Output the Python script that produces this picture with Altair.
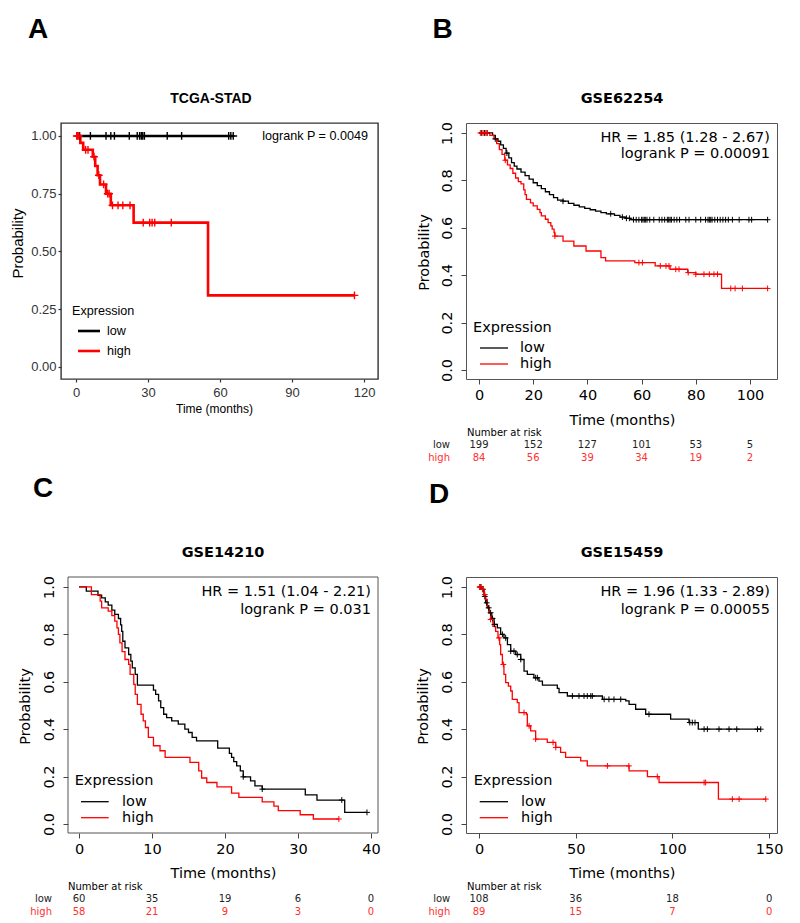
import altair as alt
import pandas as pd

# ---------------- data ----------------
GROUPS = ["low", "high"]

# A: TCGA-STAD
a_low_t = [0, 65.5]
a_low_s = [1.0, 1.0]
a_low_cens = [1.5, 6, 12.5, 14.5, 16, 22.2, 25.5, 26.5, 27.2, 27.8, 28.5, 38, 44, 63.6, 64.5, 65.5]
a_high_t = [0, 1.8, 3.0, 7.0, 8.0, 9.0, 10.0, 12.5, 14.5, 24.0, 55.0, 116.0]
a_high_s = [1.0, 0.97, 0.94, 0.91, 0.87, 0.83, 0.79, 0.75, 0.70, 0.625, 0.31, 0.31]
a_high_cens = [0.3, 0.7, 1.2, 4.0, 5.0, 7.5, 9.5, 11.5, 13.2, 13.8, 15.2, 17.5, 19.5, 22.5,
               28, 30.7, 31.7, 32.8, 39.7, 116]

# B: GSE62254
b_low_t = [0, 5, 6, 7, 8, 9, 10, 11, 12, 13, 14, 15.5, 17, 18.5, 20, 21.5, 23, 24.5, 26, 27.5,
           29, 31, 33, 35, 37, 39, 41, 43, 45, 47, 50, 52, 54, 56, 106.5]
b_low_s = [1, .99, .975, .965, .95, .935, .915, .895, .875, .86, .848, .835, .82, .805, .79, .778,
           .765, .752, .74, .727, .717, .712, .703, .695, .688, .682, .676, .67, .664, .659, .652,
           .645, .64, .634, .634]
b_low_cens = [1.0, 2.0, 3.0, 6.0, 10.3, 31, 48.6, 52.9, 54.4, 55.5, 57, 58, 59, 60, 60.5, 61, 61.5,
              62, 63, 64.5, 66.5, 67.5, 68.5, 69.5, 70, 70.5, 71, 72, 73, 74, 76.3, 77.5, 80, 81.8,
              83.6, 84.5, 85, 85.5, 86, 87, 88, 89, 90, 91, 92, 93.5, 96, 99.6, 100.6, 106.5]
b_high_t = [0, 4, 5.5, 6.5, 7.5, 8.5, 9.5, 10.5, 11.5, 12.5, 13.5, 14.5, 15.5, 16.5, 17, 17.5, 19,
            20, 21.5, 22.5, 23, 24.5, 25.5, 26.5, 27, 27.7, 28, 31, 35, 39.5, 45, 46.7, 57.5, 65,
            70.5, 77, 80, 89.5, 106.5]
b_high_s = [1, .99, .975, .955, .93, .91, .885, .865, .85, .83, .81, .795, .785, .76, .74, .72,
            .705, .692, .678, .664, .65, .636, .622, .608, .594, .58, .565, .544, .523, .502, .474,
            .46, .453, .439, .425, .411, .404, .344, .344]
b_high_cens = [0.5, 1.5, 2.5, 3.0, 9.7, 28, 59, 60.3, 66.9, 69, 70.1, 72.6, 73.8, 77.2, 80, 83, 85,
               86.7, 88, 92.9, 94.5, 97.2, 106.5]

# C: GSE14210
c_low_t = [0, 1.0, 2.6, 3.1, 3.6, 4.0, 4.5, 4.9, 5.4, 5.7, 5.85, 6.0, 6.3, 6.8, 7.1, 7.3, 7.7, 8.0,
           10.2, 10.5, 10.9, 11.2, 11.6, 12.0, 12.7, 13.6, 14.5, 15.0, 15.5, 16.1, 19.0, 20.6,
           20.9, 21.2, 21.6, 22.1, 22.5, 23.5, 24.1, 25.1, 31.0, 32.6, 36.4, 39.45]
c_low_s = [1.0, .982, .965, .954, .937, .923, .902, .884, .867, .84, .813, .771, .743, .715, .687,
           .659, .631, .586, .565, .547, .519, .491, .463, .449, .435, .421, .4, .386, .365, .351,
           .32, .298, .281, .263, .245, .224, .199, .182, .161, .147, .123, .101, .049, .049]
c_low_cens = [22.5, 25.1, 36.0, 39.45]
c_high_t = [0, 1.7, 2.9, 3.1, 4.0, 4.5, 4.9, 5.2, 5.4, 5.6, 5.9, 6.3, 6.8, 7.0, 7.5, 7.7, 8.0, 8.5,
            8.8, 9.1, 9.5, 10.2, 11.1, 11.8, 15.2, 16.4, 16.8, 17.5, 18.9, 20.9, 21.9, 25.1, 26.7,
            27.3, 30.3, 32.1, 35.6]
c_high_s = [1.0, .968, .94, .912, .898, .879, .856, .827, .8, .764, .727, .694, .673, .631, .589,
            .547, .505, .463, .435, .407, .365, .33, .309, .281, .26, .224, .194, .175, .157, .13,
            .112, .093, .075, .056, .039, .021, .021]
c_high_cens = [35.6]

# D: GSE15459
d_low_t = [0, 1.7, 2.6, 3.4, 4.3, 5.2, 6.6, 7.8, 9.5, 11.2, 12.9, 14.7, 16.4, 19.0, 21.6, 23.3,
           25.0, 28.4, 31.0, 32.8, 40.5, 41.4, 45.7, 63.8, 75.9, 77.6, 81.0, 86.2, 99.1, 108.6,
           113.4, 145.7]
d_low_s = [1.0, .99, .96, .933, .912, .891, .867, .842, .827, .8, .785, .757, .729, .715, .694,
           .645, .631, .617, .603, .586, .572, .554, .54, .526, .519, .505, .484, .463, .442, .428,
           .4, .4]
d_low_cens = [0.5, 1.0, 2.0, 3.0, 4.0, 5.0, 6.0, 7.0, 8.0, 12.1, 13.8, 16.4, 18.1, 19.8, 21.6,
              29.3, 30.2, 48.3, 51.7, 54.3, 56, 57.8, 58.6, 64.7, 67.2, 69.8, 73.3, 87.9, 109,
              110.3, 111.7, 116.4, 118.1, 124.1, 129.3, 133.3, 144, 145.7]
d_high_t = [0, 1.4, 2.6, 3.4, 4.3, 5.2, 6.0, 7.2, 8.6, 9.8, 10.7, 11.2, 12.1, 12.9, 13.8, 15.2,
            16.4, 17.2, 19.8, 20.7, 24.5, 25.0, 26.7, 29.3, 35.3, 39.7, 42.2, 44.8, 52.6, 56.0,
            77.6, 87.1, 93.1, 123.8, 148.3]
d_high_s = [1.0, .99, .968, .947, .919, .891, .863, .834, .813, .785, .757, .715, .673, .631, .596,
            .582, .561, .526, .512, .47, .463, .414, .393, .358, .344, .323, .302, .281, .266,
            .245, .224, .2, .175, .105, .105]
d_high_cens = [0.3, 1.0, 1.8, 3.0, 6.0, 10.3, 12.6, 23.3, 25.9, 29.3, 38.3, 39.7, 66.4, 77.5,
               92.2, 116.4, 117.2, 131, 134.5, 148.3]

# number-at-risk tables
b_risk_t = [0, 20, 40, 60, 80, 100]
b_risk_low = [199, 152, 127, 101, 53, 5]
b_risk_high = [84, 56, 39, 34, 19, 2]
c_risk_t = [0, 10, 20, 30, 40]
c_risk_low = [60, 35, 19, 6, 0]
c_risk_high = [58, 21, 9, 3, 0]
d_risk_t = [0, 50, 100, 150]
d_risk_low = [108, 36, 18, 0]
d_risk_high = [89, 15, 7, 0]

# axis ticks
a_xt = [0, 30, 60, 90, 120]
a_yt = [0, 0.25, 0.5, 0.75, 1.0]
b_xt = [0, 20, 40, 60, 80, 100]
c_xt = [0, 10, 20, 30, 40]
d_xt = [0, 50, 100, 150]
bcd_yt = [0, 0.2, 0.4, 0.6, 0.8, 1.0]

titles = ["TCGA-STAD", "GSE62254", "GSE14210", "GSE15459"]
letters = ["A", "B", "C", "D"]
hr_texts = ["", "HR = 1.85 (1.28 - 2.67)", "HR = 1.51 (1.04 - 2.21)", "HR = 1.96 (1.33 - 2.89)"]
p_texts = ["logrank P = 0.0049", "logrank P = 0.00091", "logrank P = 0.031", "logrank P = 0.00055"]

# ---------------- helpers ----------------
CROSS = "M-1,0L1,0M0,-1L0,1"
RFONT = "DejaVu Sans"
GFONT = "Liberation Sans"
COLOR_SCALE = alt.Scale(domain=GROUPS, range=["black", "red"])


def step_val(c, ts, ss):
    v = ss[0]
    for t, s in zip(ts, ss):
        if t <= c:
            v = s
    return v


def curves_df(lt, ls, ht, hs):
    rows = [{"t": t, "s": s, "g": "low"} for t, s in zip(lt, ls)]
    rows += [{"t": t, "s": s, "g": "high"} for t, s in zip(ht, hs)]
    return pd.DataFrame(rows)


def cens_df(lc, lt, ls, hc, ht, hs):
    rows = [{"t": c, "s": step_val(c, lt, ls), "g": "low"} for c in lc]
    rows += [{"t": c, "s": step_val(c, ht, hs), "g": "high"} for c in hc]
    return pd.DataFrame(rows)


def txt(s, x, y, size, font, color="black", align="left", weight="normal", baseline="middle"):
    return alt.Chart(pd.DataFrame({"v": [s]})).mark_text(
        align=align, baseline=baseline, fontSize=size, font=font, color=color,
        fontWeight=weight).encode(x=alt.value(x), y=alt.value(y), text="v:N")


def seg(x1, x2, y, color, width):
    return alt.Chart(pd.DataFrame({"v": [0]})).mark_rule(color=color, strokeWidth=width).encode(
        x=alt.value(x1), x2=alt.value(x2), y=alt.value(y))


def panel(i, curv, cens, xt, yt, xdom, ydom, width, height, ggstyle, lay, risk=None, frame_dx=0):
    font = GFONT if ggstyle else RFONT
    xsc = alt.Scale(domain=xdom, nice=False, zero=False)
    ysc = alt.Scale(domain=ydom, nice=False, zero=False)
    tick = 3 if ggstyle else 5
    tickc = "#333333" if ggstyle else "#444444"
    labc = "#333333" if ggstyle else "black"
    lfs = 13 if ggstyle else 14.5
    xaxis = alt.Axis(values=xt, format="d", title="Time (months)", grid=False, domain=False,
                     tickSize=tick, tickColor=tickc, tickWidth=1.2 if ggstyle else 1,
                     labelFont=font, labelFontSize=lfs, labelColor=labc,
                     labelPadding=lay["xlp"], labelFlush=False, labelOverlap=False,
                     titleFont=font, titleFontSize=12 if ggstyle else 14.5,
                     titleFontWeight="normal", titleColor="black",
                     titleX=lay["xtx"], titleY=lay["xty"], titleAlign="center",
                     titleBaseline="middle", titleAngle=0)
    yopts = dict(values=yt, title="Probability", grid=False, domain=False,
                 tickSize=tick, tickColor=tickc, tickWidth=1.2 if ggstyle else 1,
                 labelFont=font, labelFontSize=lfs, labelColor=labc,
                 labelPadding=lay["ylp"], labelFlush=False, labelOverlap=False,
                 titleFont=font, titleFontSize=15 if ggstyle else 14.5, titleFontWeight="normal",
                 titleColor="black", titleX=lay["ytx"], titleY=lay["yty"], titleAlign="center",
                 titleBaseline="middle", titleAngle=270)
    if ggstyle:
        yaxis = alt.Axis(format=".2f", labelAngle=0, labelAlign="right", labelBaseline="middle",
                         **yopts)
    else:
        yaxis = alt.Axis(format=".1f", labelAngle=270, labelAlign="center",
                         labelBaseline="middle", offset=-frame_dx, **yopts)
    X = alt.X("t:Q", scale=xsc, axis=xaxis)
    Y = alt.Y("s:Q", scale=ysc, axis=yaxis)
    lw = 2.6 if ggstyle else 1.3
    layers = [
        alt.Chart(curv).mark_line(interpolate="step-after", strokeWidth=lw).encode(
            x=X, y=Y, color=alt.Color("g:N", scale=COLOR_SCALE, legend=None),
            detail="g:N", order=alt.Order("t:Q")),
        alt.Chart(cens).mark_point(shape=CROSS, filled=False, opacity=1,
                                   strokeWidth=1.4 if ggstyle else 1.0,
                                   size=60 if ggstyle else 34).encode(
            x=X, y=Y, color=alt.Color("g:N", scale=COLOR_SCALE, legend=None)),
    ]
    # annotations
    afs = 12.6 if ggstyle else 14.5
    if hr_texts[i]:
        layers.append(txt(hr_texts[i], lay["ann_x"], lay["hr_y"], afs, font, align="right"))
    layers.append(txt(p_texts[i], lay["ann_x"], lay["p_y"], afs, font, align="right"))
    layers.append(txt(titles[i], lay["ti_x"], lay["ti_y"], 14 if ggstyle else 14.5,
                      "Liberation Sans" if ggstyle else RFONT, align="center", weight="bold"))
    layers.append(txt(letters[i], lay["le_x"], lay["le_y"], 28, "Liberation Sans",
                      align="center", weight="bold"))
    # legend
    layers.append(txt("Expression", lay["lg_x"], lay["lg_y"], afs, font))
    layers.append(seg(lay["ls_x1"], lay["ls_x2"], lay["low_y"], "black", lw))
    layers.append(seg(lay["ls_x1"], lay["ls_x2"], lay["high_y"], "red", lw))
    layers.append(txt("low", lay["ll_x"], lay["low_y"], afs, font))
    layers.append(txt("high", lay["ll_x"], lay["high_y"], afs, font))
    if frame_dx:
        layers.append(alt.Chart(pd.DataFrame({"v": [0]})).mark_rect(
            fillOpacity=0, stroke="#555555", strokeWidth=1).encode(
            x=alt.value(frame_dx), x2=alt.value(width), y=alt.value(0), y2=alt.value(height)))
    if risk is not None:
        rt, rl, rh = risk
        layers.append(txt("Number at risk", lay["nr_x"], 310, 10, RFONT))
        layers.append(txt("low", lay["rl_x"], 322, 10, RFONT, color="#222222", align="right"))
        layers.append(txt("high", lay["rl_x"], 334.5, 10, RFONT, color="#ff3030", align="right"))
        layers.append(alt.Chart(pd.DataFrame({"t": rt, "n": rl})).mark_text(
            fontSize=10, font=RFONT, color="#222222", baseline="middle").encode(
            x=X, y=alt.value(322), text="n:Q"))
        layers.append(alt.Chart(pd.DataFrame({"t": rt, "n": rh})).mark_text(
            fontSize=10, font=RFONT, color="#ff3030", baseline="middle").encode(
            x=X, y=alt.value(334.5), text="n:Q"))
    stroke = "transparent" if frame_dx else ("#333333" if ggstyle else "#555555")
    return alt.layer(*layers).properties(
        width=width, height=height,
        view=alt.ViewBackground(stroke=stroke, strokeWidth=1.4 if ggstyle else 1, fill="white"))


H = 256
pa = panel(0, curves_df(a_low_t, a_low_s, a_high_t, a_high_s),
           cens_df(a_low_cens, a_low_t, a_low_s, a_high_cens, a_high_t, a_high_s),
           a_xt, a_yt, [-6.25, 125.8], [-0.052, 1.056], 317, H, True,
           dict(xlp=4, xtx=153, xty=29, ylp=2, ytx=-44, yty=120, ann_x=307, hr_y=0, p_y=13,
                ti_x=150, ti_y=-24, le_x=-23, le_y=-93, lg_x=11, lg_y=188, ls_x1=17, ls_x2=39,
                low_y=208, high_y=228, ll_x=46))
pb = panel(1, curves_df(b_low_t, b_low_s, b_high_t, b_high_s),
           cens_df(b_low_cens, b_low_t, b_low_s, b_high_cens, b_high_t, b_high_s),
           b_xt, bcd_yt, [-4.80, 109.96], [-0.038, 1.042], 311, H, False,
           dict(xlp=4, xtx=156, xty=41, ylp=14, ytx=-42, yty=129, ann_x=304, hr_y=14.7,
                p_y=31.3, ti_x=156, ti_y=-24, le_x=-23.5, le_y=-93, lg_x=7, lg_y=205,
                ls_x1=14, ls_x2=42, low_y=225, high_y=241, ll_x=54, nr_x=1, rl_x=-16),
           risk=(b_risk_t, b_risk_low, b_risk_high))
pc = panel(2, curves_df(c_low_t, c_low_s, c_high_t, c_high_s),
           cens_df(c_low_cens, c_low_t, c_low_s, c_high_cens, c_high_t, c_high_s),
           c_xt, bcd_yt, [-2.466, 40.96], [-0.038, 1.042], 317, H, False,
           dict(xlp=4, xtx=162, xty=40, ylp=14, ytx=-43, yty=129, ann_x=310, hr_y=15,
                p_y=33, ti_x=162, ti_y=-23.7, le_x=-18, le_y=-88, lg_x=13.7, lg_y=204,
                ls_x1=20, ls_x2=47.7, low_y=224.7, high_y=240.7, ll_x=61, nr_x=7, rl_x=-9),
           risk=(c_risk_t, c_risk_low, c_risk_high), frame_dx=7)
pd_ = panel(3, curves_df(d_low_t, d_low_s, d_high_t, d_high_s),
            cens_df(d_low_cens, d_low_t, d_low_s, d_high_cens, d_high_t, d_high_s),
            d_xt, bcd_yt, [-6.72, 154.1], [-0.038, 1.042], 311, H, False,
            dict(xlp=4, xtx=156, xty=40, ylp=14, ytx=-42.3, yty=129, ann_x=304, hr_y=15,
                 p_y=33, ti_x=156, ti_y=-23.7, le_x=-27, le_y=-82, lg_x=7.7, lg_y=204,
                 ls_x1=13.7, ls_x2=42, low_y=224.7, high_y=240.7, ll_x=55, nr_x=1, rl_x=-15.7),
            risk=(d_risk_t, d_risk_low, d_risk_high))

chart = alt.concat(pa, pb, pc, pd_, columns=2, spacing={"row": 198, "column": 88},
                   bounds="flush").properties(
    padding={"left": 1, "top": 7, "right": 5, "bottom": 5},
    background="white")

chart.save("out.html", embed_options={"renderer": "svg", "actions": False})
